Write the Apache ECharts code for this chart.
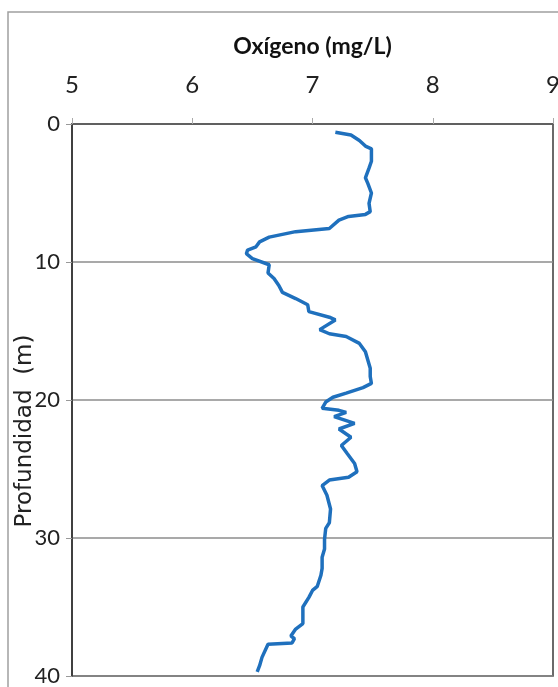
<!DOCTYPE html>
<html>
<head>
<meta charset="utf-8">
<script src="https://cdn.jsdelivr.net/npm/echarts@6/dist/echarts.min.js"></script>
<style>
  html, body { margin: 0; padding: 0; background: #fff; }
  #chart { width: 558px; height: 687px; }
</style>
</head>
<body>
<div id="chart"></div>
<script>
// profundidad (m)
var depth = [0.6,0.8,1.2,1.6,1.8,2.7,3.2,3.9,4.3,5.0,5.75,6.35,6.55,6.7,
  6.97,7.57,7.8,8.2,8.54,8.9,9.14,9.4,9.75,10.2,10.8,11.2,11.7,12.2,12.65,13.1,
  13.6,14.0,14.2,14.9,15.2,15.4,15.9,16.5,17.1,17.7,18.3,18.8,19.1,19.5,19.8,
  20.15,20.6,20.75,20.9,21.2,21.7,22.1,22.7,23.3,23.9,24.6,25.2,25.6,25.8,26.2,
  26.9,27.9,28.9,29.3,30.1,30.8,31.4,32.2,32.7,
  33.5,33.8,34.3,35.0,35.6,36.2,36.6,37.1,37.3,37.6,37.7,38.65,39.25,39.7];
// oxigeno (mg/L)
var oxygen = [7.19,7.32,7.39,7.44,7.49,7.49,7.47,7.44,7.46,7.49,7.47,7.48,7.44,7.30,
  7.22,7.14,6.86,6.64,6.56,6.53,6.46,6.45,6.50,6.64,6.63,6.68,6.72,6.75,6.86,6.96,
  6.97,7.14,7.19,7.06,7.14,7.28,7.39,7.44,7.46,7.48,7.48,7.49,7.42,7.28,7.17,
  7.11,7.08,7.22,7.28,7.18,7.35,7.22,7.32,7.24,7.29,7.35,7.37,7.30,7.14,7.08,
  7.12,7.15,7.14,7.11,7.10,7.10,7.08,7.08,7.07,
  7.04,7.00,6.97,6.92,6.92,6.92,6.86,6.82,6.85,6.83,6.63,6.58,6.56,6.54];

var xTitle = 'Oxígeno (mg/L)';
var yTitle = 'Profundidad  (m)';

var points = [];
for (var i = 0; i < depth.length; i++) {
  points.push([oxygen[i], depth[i]]);
}

var myChart = echarts.init(document.getElementById('chart'));
myChart.setOption({
  animation: false,
  graphic: [{
    type: 'rect',
    shape: { x: 8, y: 12, width: 700, height: 800 },
    style: { fill: 'none', stroke: '#a0a0a0', lineWidth: 1.5 },
    silent: true
  }],
  grid: {
    left: 72,
    top: 124,
    right: 5,
    bottom: 11,
    containLabel: false,
    outerBoundsMode: 'none',
    show: true,
    borderColor: '#3a3a3a',
    borderWidth: 1.5
  },
  xAxis: {
    type: 'value',
    position: 'top',
    min: 5,
    max: 9,
    interval: 1,
    name: xTitle,
    nameLocation: 'middle',
    nameGap: 66,
    nameMoveOverlap: false,
    nameTextStyle: {
      fontFamily: 'Lato',
      fontWeight: 'bold',
      fontSize: 23,
      color: '#111'
    },
    axisLine: { show: true, lineStyle: { color: '#555', width: 1.5 } },
    axisTick: { show: true, length: 6, lineStyle: { color: '#aaa' } },
    axisLabel: {
      margin: 27,
      fontFamily: 'Lato',
      fontSize: 24,
      color: '#222'
    },
    splitLine: { show: false }
  },
  yAxis: {
    type: 'value',
    inverse: true,
    min: 0,
    max: 40,
    interval: 10,
    name: yTitle,
    nameLocation: 'middle',
    nameRotate: 90,
    nameGap: 35,
    nameMoveOverlap: false,
    nameTextStyle: {
      fontFamily: 'DejaVu Sans',
      fontSize: 23,
      color: '#222',
      padding: [0, 62, 0, 0]
    },
    axisLine: { show: true, lineStyle: { color: '#333', width: 1.5 } },
    axisTick: { show: true, length: 6, lineStyle: { color: '#999' } },
    axisLabel: {
      margin: 12,
      fontFamily: 'Lato',
      fontSize: 22,
      color: '#222'
    },
    splitLine: { show: true, lineStyle: { color: '#8c8c8c', width: 1.5 } }
  },
  series: [{
    type: 'line',
    data: points,
    showSymbol: false,
    lineStyle: { color: '#1f70bd', width: 3.5 },
    itemStyle: { color: '#1f70bd' }
  }]
});
</script>
</body>
</html>
